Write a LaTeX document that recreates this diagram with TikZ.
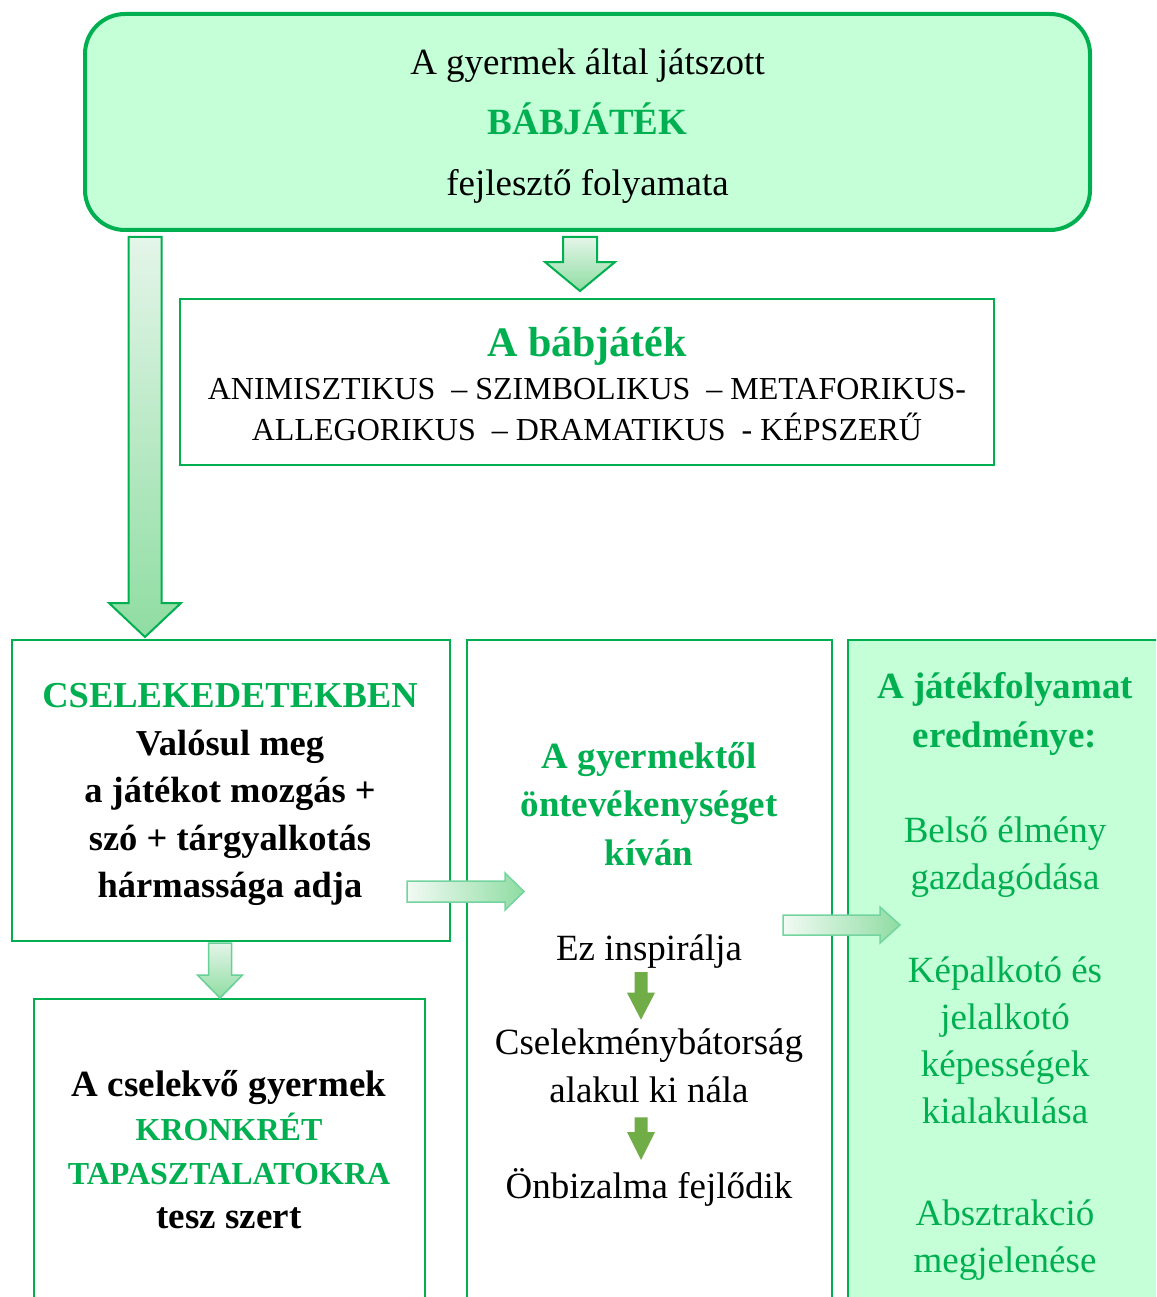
\documentclass[tikz,border=0pt]{standalone}
\usepackage{fontspec}
\setmainfont{Liberation Serif}
\usetikzlibrary{calc}
\definecolor{accent}{HTML}{00B050}
\definecolor{lightgreen}{HTML}{C4FFD8}
\definecolor{arrowlight}{HTML}{E4F5E9}
\definecolor{arrowdark}{HTML}{8FDDA2}
\definecolor{darkarrow}{HTML}{70AD47}

% block arrows: [style]{start}{tip}{shaft half}{head half}{head length}
\newcommand{\vblockarrow}[6][]{%
  \path[#1] ($(#2)+(-#4,0)$) -- ($(#2)+(#4,0)$) -- ($(#3)+(#4,-#6)$) -- ($(#3)+(#5,-#6)$)
    -- (#3) -- ($(#3)+(-#5,-#6)$) -- ($(#3)+(-#4,-#6)$) -- cycle;}
\newcommand{\hblockarrow}[6][]{%
  \path[#1] ($(#2)+(0,-#4)$) -- ($(#3)+(-#6,-#4)$) -- ($(#3)+(-#6,-#5)$) -- (#3)
    -- ($(#3)+(-#6,#5)$) -- ($(#3)+(-#6,#4)$) -- ($(#2)+(0,#4)$) -- cycle;}

\tikzset{
  box/.style={draw=accent, line width=2pt, inner sep=0pt, outer sep=0pt},
  topbox/.style={box, line width=4pt, fill=lightgreen, rounded corners=40pt},
  resbox/.style={box, fill=lightgreen},
  txt/.style={inner sep=0pt, outer sep=0pt, align=center},
  vgrad/.style={draw=accent, line width=2pt, top color=arrowlight, bottom color=arrowdark},
  hgrad/.style={draw=accent!55, line width=1.5pt, left color=arrowlight!50!white, right color=arrowdark},
  smallarrow/.style={fill=darkarrow}
}

\begin{document}
\begin{tikzpicture}[x=1pt,y=-1pt]
\useasboundingbox (0,0) rectangle (1156,1297);
\clip (0,0) rectangle (1156,1297);
\fill[white] (0,0) rectangle (1156,1297);

\node[topbox, minimum width=1005pt, minimum height=216pt] (top) at (587.5,122) {};
\node[box, minimum width=814pt, minimum height=166pt] (kinds) at (587,382) {};
\node[box, minimum width=438pt, minimum height=301pt] (act) at (231,790.5) {};
\node[box, minimum width=391pt, minimum height=351pt] (exp) at (229.5,1174.5) {};
\node[box, minimum width=365pt, minimum height=710pt] (self) at (649.5,995) {};
\node[resbox, minimum width=316pt, minimum height=710pt] (res) at (1006,995) {};

\node[txt, font=\fontsize{37}{60.5}\selectfont] (toptxt) at (587.5,125.8)
  {A gyermek által játszott\\ \textbf{\color{accent}BÁBJÁTÉK}\\ fejlesztő folyamata};

\node[txt, font=\fontsize{42}{50}\selectfont\bfseries, text=accent, anchor=base] (kindtitle) at (587,356) {A bábjáték};
\node[txt, font=\fontsize{32}{41}\selectfont] (kindlist) at (587,409.9)
  {ANIMISZTIKUS \ – SZIMBOLIKUS \ – METAFORIKUS-\\ALLEGORIKUS \ – DRAMATIKUS \ - KÉPSZERŰ};

\node[txt, font=\fontsize{36.5}{47.5}\selectfont\bfseries] (acttxt) at (230,794.6)
  {{\color{accent}CSELEKEDETEKBEN}\\Valósul meg\\a játékot mozgás +\\szó + tárgyalkotás\\hármassága adja};

\node[txt, font=\fontsize{37}{44}\selectfont\bfseries] (exptxt) at (229,1150)
  {A cselekvő gyermek\\{\fontsize{32}{44}\selectfont\color{accent}KRONKRÉT}\\{\fontsize{32}{44}\selectfont\color{accent}TAPASZTALATOKRA}\\tesz szert};

\node[txt, font=\fontsize{37}{48.5}\selectfont\bfseries, text=accent] (s1) at (649,803.75)
  {A gyermektől\\öntevékenységet\\kíván};
\node[txt, font=\fontsize{37}{48}\selectfont, anchor=base] (s2) at (649,960) {Ez inspirálja};
\node[txt, font=\fontsize{37}{48}\selectfont] (s3) at (649,1066.25) {Cselekménybátorság\\alakul ki nála};
\node[txt, font=\fontsize{37}{48}\selectfont, anchor=base] (s4) at (649,1198) {Önbizalma fejlődik};

\node[txt, font=\fontsize{37}{49}\selectfont\bfseries, text=accent] (r1) at (1005,713.75) {A játékfolyamat\\eredménye:};
\node[txt, font=\fontsize{37}{47}\selectfont, text=accent] (r2) at (1005,856.75) {Belső élmény\\gazdagódása};
\node[txt, font=\fontsize{37}{47}\selectfont, text=accent] (r3) at (1005,1040.75) {Képalkotó és\\jelalkotó\\képességek\\kialakulása};
\node[txt, font=\fontsize{37}{47}\selectfont, text=accent] (r4) at (1005,1239.75) {Absztrakció\\megjelenése};

\coordinate (a1s) at ($(top.south)+(-442.5,7)$);
\coordinate (a1e) at ($(act.north)+(-86,-3)$);
\coordinate (a2s) at ($(top.south)+(-7.5,7)$);
\coordinate (a2e) at ($(kinds.north)+(-7,-8)$);
\coordinate (a3s) at ($(act.south)+(-11,2)$);
\coordinate (a3e) at ($(exp.north)+(-9.5,-1)$);
\coordinate (a4s) at ($(act.east)+(-43,101)$);
\coordinate (a4e) at ($(self.west)+(57,-103.5)$);
\coordinate (a5s) at ($(self.east)+(-49,-70)$);
\coordinate (a5e) at ($(res.west)+(52,-70)$);
\coordinate (m1s) at ($(s2.base)+(-8,12)$);
\coordinate (m1e) at ($(s3.north)+(-8,-9.5)$);
\coordinate (m2s) at ($(s3.south)+(-8,14)$);
\coordinate (m2e) at ($(s4.base)+(-8,-38)$);

\vblockarrow[vgrad]{a1s}{a1e}{16.5}{36}{34}
\vblockarrow[vgrad]{a2s}{a2e}{17}{35}{29}
\vblockarrow[vgrad, draw=accent!60, line width=1.5pt]{a3s}{a3e}{11.5}{22.5}{23}
\hblockarrow[hgrad]{a4s}{a4e}{10.5}{18.5}{19}
\hblockarrow[hgrad]{a5s}{a5e}{10}{18}{20}
\vblockarrow[smallarrow]{m1s}{m1e}{6.5}{14}{27}
\vblockarrow[smallarrow]{m2s}{m2e}{6.5}{14}{28}
\end{tikzpicture}
\end{document}
